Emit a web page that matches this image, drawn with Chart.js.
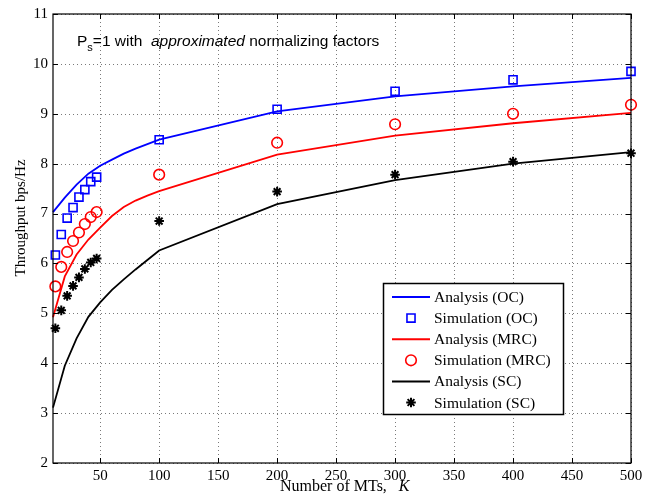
<!DOCTYPE html>
<html>
<head>
<meta charset="utf-8">
<script src="https://cdn.jsdelivr.net/npm/chart.js@4/dist/chart.umd.min.js"></script>
<style>
  html, body { margin: 0; padding: 0; background: #fff; }
  #wrap { width: 667px; height: 502px; position: relative; }
</style>
</head>
<body>
<div id="wrap"><canvas id="c" width="667" height="502"></canvas></div>
<script>
// Analytical throughput, evaluated on a coarse grid of K
const kAnalysis = [10, 20, 30, 40, 50, 60, 70, 80, 90, 100, 200, 300, 400, 500];
const analysisOC  = [7.03, 7.32, 7.58, 7.80, 7.96, 8.08, 8.20, 8.30, 8.39, 8.48, 9.05, 9.35, 9.55, 9.72];
const analysisMRC = [4.92, 5.74, 6.18, 6.48, 6.72, 6.95, 7.13, 7.26, 7.36, 7.45, 8.18, 8.56, 8.81, 9.02];
const analysisSC  = [3.11, 3.95, 4.50, 4.93, 5.22, 5.47, 5.68, 5.88, 6.07, 6.26, 7.19, 7.67, 8.00, 8.23];

// Monte-Carlo throughput
const kSimulation = [12, 17, 22, 27, 32, 37, 42, 47, 100, 200, 300, 400, 500];
const simulationOC  = [6.17, 6.58, 6.91, 7.12, 7.33, 7.48, 7.64, 7.73, 8.48, 9.09, 9.45, 9.68, 9.85];
const simulationMRC = [5.54, 5.93, 6.23, 6.45, 6.62, 6.79, 6.93, 7.03, 7.78, 8.42, 8.79, 9.00, 9.18];
const simulationSC  = [4.70, 5.06, 5.35, 5.55, 5.72, 5.89, 6.02, 6.10, 6.85, 7.44, 7.78, 8.04, 8.21];

const xTicks = [50, 100, 150, 200, 250, 300, 350, 400, 450, 500];
const yTicks = [2, 3, 4, 5, 6, 7, 8, 9, 10, 11];

const legendLabels = ['Analysis (OC)', 'Simulation (OC)', 'Analysis (MRC)', 'Simulation (MRC)', 'Analysis (SC)', 'Simulation (SC)'];

const SERIF = '"Liberation Serif", "Times New Roman", serif';
const SANS = '"Liberation Sans", Arial, sans-serif';

const pts = (xs, ys) => xs.map((x, i) => ({ x, y: ys[i] }));

function lineSet(label, xs, ys, color) {
  return { label, data: pts(xs, ys), borderColor: color, backgroundColor: color,
    borderWidth: 1.8, pointRadius: 0, showLine: true, tension: 0, clip: false };
}
function markSet(label, xs, ys, color, style, r) {
  return { label, data: pts(xs, ys), borderColor: color, backgroundColor: 'rgba(0,0,0,0)',
    borderWidth: style === 'star' ? 2 : 1.6, pointStyle: style, pointRadius: r, pointHoverRadius: r,
    showLine: false, clip: false };
}

const datasets = [
  lineSet(legendLabels[0], kAnalysis, analysisOC, '#0000ff'),
  markSet(legendLabels[1], kSimulation, simulationOC, '#0000ff', 'rect', 5.7),
  lineSet(legendLabels[2], kAnalysis, analysisMRC, '#ff0000'),
  markSet(legendLabels[3], kSimulation, simulationMRC, '#ff0000', 'circle', 5.3),
  lineSet(legendLabels[4], kAnalysis, analysisSC, '#000000'),
  markSet(legendLabels[5], kSimulation, simulationSC, '#000000', 'star', 4.8)
];

// Dotted grid behind the curves
const dottedGrid = {
  id: 'dottedGrid',
  beforeDatasetsDraw(chart) {
    const { ctx, chartArea: a, scales: { x, y } } = chart;
    ctx.save();
    ctx.strokeStyle = '#7a7a7a';
    ctx.lineWidth = 1;
    ctx.setLineDash([1, 3]);
    ctx.beginPath();
    xTicks.forEach(v => {
      const px = Math.round(x.getPixelForValue(v)) + 0.5;
      ctx.moveTo(px, a.bottom); ctx.lineTo(px, a.top);
    });
    yTicks.forEach(v => {
      const py = Math.round(y.getPixelForValue(v)) + 0.5;
      ctx.moveTo(a.left, py); ctx.lineTo(a.right, py);
    });
    ctx.stroke();
    ctx.restore();
  }
};

// Axes box, inward tick marks, annotation, axis titles and legend
const decorations = {
  id: 'decorations',
  afterDraw(chart) {
    const { ctx, chartArea: a, scales: { x, y } } = chart;
    ctx.save();
    ctx.strokeStyle = '#000';
    ctx.lineWidth = 1.2;
    ctx.setLineDash([]);
    ctx.strokeRect(a.left, a.top, a.right - a.left, a.bottom - a.top);
    const tl = 5;
    ctx.beginPath();
    xTicks.forEach(v => {
      const px = Math.round(x.getPixelForValue(v)) + 0.5;
      ctx.moveTo(px, a.bottom); ctx.lineTo(px, a.bottom - tl);
      ctx.moveTo(px, a.top); ctx.lineTo(px, a.top + tl);
    });
    yTicks.forEach(v => {
      const py = Math.round(y.getPixelForValue(v)) + 0.5;
      ctx.moveTo(a.left, py); ctx.lineTo(a.left + tl, py);
      ctx.moveTo(a.right, py); ctx.lineTo(a.right - tl, py);
    });
    ctx.lineWidth = 1;
    ctx.stroke();

    // annotation: P_s = 1 with approximated normalizing factors
    ctx.fillStyle = '#000';
    ctx.textBaseline = 'alphabetic';
    ctx.textAlign = 'left';
    const fs = 15.5;
    let tx = 77, ty = 46;
    ctx.font = fs + 'px ' + SANS;
    ctx.fillText('P', tx, ty); tx += ctx.measureText('P').width;
    ctx.font = '11px ' + SANS;
    ctx.fillText('s', tx, ty + 5); tx += ctx.measureText('s').width;
    ctx.font = fs + 'px ' + SANS;
    ctx.fillText('=1 with  ', tx, ty); tx += ctx.measureText('=1 with  ').width;
    ctx.font = 'italic ' + fs + 'px ' + SANS;
    ctx.fillText('approximated', tx, ty); tx += ctx.measureText('approximated').width;
    ctx.font = fs + 'px ' + SANS;
    ctx.fillText(' normalizing factors', tx, ty);

    // x axis title
    const t1 = 'Number of MTs,   ';
    ctx.textBaseline = 'middle';
    ctx.font = '16px ' + SERIF;
    const w1 = ctx.measureText(t1).width;
    ctx.fillText(t1, 280, 487);
    ctx.font = 'italic 16px ' + SERIF;
    ctx.fillText('K', 280 + w1, 487);

    // y axis title
    ctx.save();
    ctx.translate(21, 218);
    ctx.rotate(-Math.PI / 2);
    ctx.textAlign = 'center';
    ctx.font = '15px ' + SERIF;
    ctx.fillText('Throughput bps/Hz', 0, 0);
    ctx.restore();

    // legend
    const bx = 383.5, by = 283.5, bw = 180, bh = 131;
    ctx.fillStyle = '#fff';
    ctx.fillRect(bx, by, bw, bh);
    ctx.strokeStyle = '#000';
    ctx.lineWidth = 1.5;
    ctx.strokeRect(bx, by, bw, bh);
    ctx.textAlign = 'left';
    ctx.textBaseline = 'middle';
    chart.data.datasets.forEach((ds, i) => {
      const ry = 297 + i * 21.1;
      if (ds.showLine) {
        ctx.strokeStyle = ds.borderColor;
        ctx.lineWidth = 2;
        ctx.beginPath(); ctx.moveTo(392, ry); ctx.lineTo(430, ry); ctx.stroke();
      } else {
        ctx.strokeStyle = ds.borderColor;
        ctx.fillStyle = 'rgba(0,0,0,0)';
        ctx.lineWidth = ds.borderWidth;
        Chart.helpers.drawPoint(ctx, { pointStyle: ds.pointStyle, radius: ds.pointRadius, borderWidth: ds.borderWidth, rotation: 0 }, 411, ry);
      }
      ctx.fillStyle = '#000';
      ctx.font = '15.5px ' + SERIF;
      ctx.fillText(ds.label, 434, ry + 1);
    });
    ctx.restore();
  }
};

new Chart(document.getElementById('c'), {
  type: 'scatter',
  data: { datasets },
  options: {
    responsive: false,
    animation: false,
    events: [],
    layout: { padding: { top: 7, right: 36, left: 0, bottom: 0 } },
    plugins: { legend: { display: false }, tooltip: { enabled: false } },
    scales: {
      x: {
        type: 'linear', min: 10, max: 500,
        afterBuildTicks: s => { s.ticks = xTicks.map(v => ({ value: v })); },
        afterFit: s => { s.height = 39; },
        grid: { display: false, drawTicks: false },
        border: { display: false },
        ticks: { color: '#000', font: { family: SERIF, size: 15 }, padding: 4, maxRotation: 0, autoSkip: false }
      },
      y: {
        type: 'linear', min: 2, max: 11,
        afterBuildTicks: s => { s.ticks = yTicks.map(v => ({ value: v })); },
        afterFit: s => { s.width = 53; },
        grid: { display: false, drawTicks: false },
        border: { display: false },
        ticks: { color: '#000', font: { family: SERIF, size: 15 }, padding: 5 }
      }
    }
  },
  plugins: [dottedGrid, decorations]
});
</script>
</body>
</html>
